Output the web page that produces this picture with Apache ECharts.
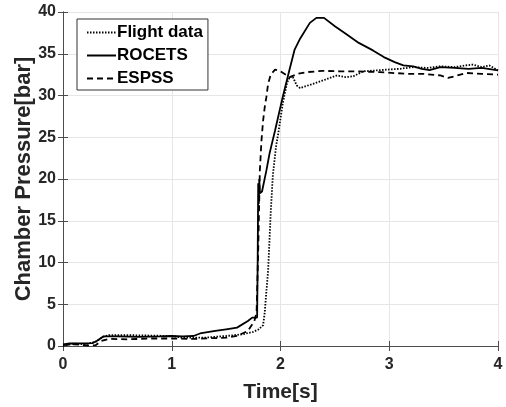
<!DOCTYPE html>
<html><head><meta charset="utf-8">
<script src="https://cdn.jsdelivr.net/npm/echarts@6/dist/echarts.min.js"></script>
<style>html,body{margin:0;padding:0;background:#fff}#c{width:506px;height:407px}</style>
</head><body><div id="c"></div>
<script>
const flightT = [0,0.1,0.2,0.3,0.37,0.42,0.6,0.8,1.0,1.1,1.3,1.5,1.65,1.75,1.8,1.84,1.855,1.87,1.886,1.9,1.91,1.93,1.96,1.98,2.02,2.06,2.085,2.11,2.15,2.18,2.3,2.39,2.52,2.6,2.67,2.76,2.88,2.98,3.1,3.22,3.35,3.47,3.6,3.7,3.77,3.85,3.92,4.0];
const flightP = [0.0,0.3,0.2,0.5,1.1,1.3,1.3,1.25,1.2,1.0,1.0,1.2,1.4,1.7,2.0,2.5,4.0,6.5,9.0,13,16,20.5,24,25.5,29.0,31.5,32.2,32.3,31.2,30.9,31.4,31.8,32.4,32.2,32.3,32.9,33.0,33.1,33.2,33.4,33.3,33.5,33.4,33.6,33.7,33.4,33.6,33.0];
const rocetsT = [0,0.06,0.27,0.31,0.37,0.5,0.7,0.9,1.0,1.1,1.2,1.26,1.4,1.5,1.6,1.7,1.74,1.785,1.79,1.795,1.8,1.805,1.81,1.83,1.87,1.9,1.95,2.02,2.085,2.13,2.18,2.27,2.33,2.4,2.5,2.61,2.72,2.85,2.95,3.05,3.13,3.22,3.3,3.37,3.47,3.6,3.73,3.85,4.0];
const rocetsP = [0.2,0.3,0.35,0.6,1.15,1.15,1.1,1.15,1.2,1.15,1.2,1.5,1.8,2.0,2.2,3.0,3.4,3.4,10,19.5,17,20,18.3,18.5,21,23.1,25.8,29.8,33.2,35.5,36.8,38.7,39.3,39.3,38.3,37.3,36.3,35.4,34.6,34.0,33.6,33.5,33.2,33.05,33.4,33.3,33.2,33.3,33.0];
const espssT = [0,0.1,0.25,0.3,0.35,0.42,0.6,0.8,1.0,1.2,1.4,1.5,1.6,1.7,1.73,1.76,1.78,1.795,1.81,1.825,1.84,1.855,1.87,1.886,1.91,1.95,2.0,2.085,2.16,2.24,2.39,2.55,2.69,2.91,3.16,3.31,3.47,3.54,3.6,3.71,3.85,4.0];
const espssP = [0.1,0.2,0.05,0.1,0.6,0.85,0.8,0.9,0.9,0.85,0.95,1.0,1.2,1.8,2.4,3.0,4,11.5,21,24.6,27,28.6,29.8,31.4,32.5,33.1,32.9,32.2,32.6,32.8,32.95,32.9,32.9,32.8,32.6,32.6,32.4,32.1,32.3,32.7,32.6,32.5];
const xTicks = [0,1,2,3,4];
const yTicks = [0,5,10,15,20,25,30,35,40];
const seriesNames = ['Flight data','ROCETS','ESPSS'];

const pairs = (t,p)=>t.map((v,i)=>[v,p[i]]);
const font = 'Liberation Sans, Arial, Helvetica, sans-serif';
const axisCol = '#4d4d4d';
const chart = echarts.init(document.getElementById('c'));
const baseX = {type:'value',min:xTicks[0],max:xTicks[xTicks.length-1],interval:1};
const baseY = {type:'value',min:yTicks[0],max:yTicks[yTicks.length-1],interval:5};
chart.setOption({
  animation:false,
  backgroundColor:'#fff',
  grid:{left:63,right:8,top:12,bottom:61,containLabel:false,outerBoundsMode:'none'},
  legend:{
    orient:'vertical',left:77,top:19,
    data:seriesNames,
    itemWidth:29,itemHeight:12,itemGap:6,
    padding:[5,5,3,9],
    borderColor:'#333',borderWidth:1,backgroundColor:'#fff',
    itemStyle:{opacity:0,borderWidth:0},
    textStyle:{fontFamily:font,fontWeight:'bold',fontSize:17,color:'#000',padding:[0,0,0,-4]}
  },
  xAxis:[
    Object.assign({},baseX,{position:'bottom',
      name:'Time[s]',nameLocation:'middle',nameGap:36,
      nameTextStyle:{fontFamily:font,fontWeight:'bold',fontSize:21,color:'#262626'},
      axisLine:{show:true,lineStyle:{color:axisCol,width:1}},
      axisTick:{show:true,inside:true,length:5,lineStyle:{color:axisCol}},
      axisLabel:{fontFamily:font,fontWeight:'bold',fontSize:16,color:'#262626',margin:11},
      splitLine:{show:true,lineStyle:{color:'#e6e6e6',width:1}}}),
    Object.assign({},baseX,{position:'top',
      axisLine:{show:true,lineStyle:{color:axisCol,width:1}},
      axisTick:{show:true,inside:true,length:5,lineStyle:{color:axisCol}},
      axisLabel:{show:false},splitLine:{show:false}})
  ],
  yAxis:[
    Object.assign({},baseY,{position:'left',
      name:'Chamber Pressure[bar]',nameLocation:'middle',nameGap:28,nameMoveOverlap:false,
      nameTextStyle:{fontFamily:font,fontWeight:'bold',fontSize:22,color:'#262626'},
      axisLine:{show:true,lineStyle:{color:axisCol,width:1}},
      axisTick:{show:true,inside:true,length:5,lineStyle:{color:axisCol}},
      axisLabel:{fontFamily:font,fontWeight:'bold',fontSize:16,color:'#262626',margin:7},
      splitLine:{show:true,lineStyle:{color:'#e6e6e6',width:1}}}),
    Object.assign({},baseY,{position:'right',
      axisLine:{show:true,lineStyle:{color:axisCol,width:1}},
      axisTick:{show:true,inside:true,length:5,lineStyle:{color:axisCol}},
      axisLabel:{show:false},splitLine:{show:false}})
  ],
  series:[
    {name:seriesNames[0],type:'line',data:pairs(flightT,flightP),showSymbol:false,symbol:'none',
     lineStyle:{color:'#000',width:1.8,type:[1.5,1.5]},itemStyle:{color:'#000'},z:3},
    {name:seriesNames[1],type:'line',data:pairs(rocetsT,rocetsP),showSymbol:false,symbol:'none',
     lineStyle:{color:'#000',width:1.8,type:'solid'},itemStyle:{color:'#000'},z:4},
    {name:seriesNames[2],type:'line',data:pairs(espssT,espssP),showSymbol:false,symbol:'none',
     lineStyle:{color:'#000',width:1.8,type:[6,4]},itemStyle:{color:'#000'},z:3}
  ]
});
</script></body></html>
